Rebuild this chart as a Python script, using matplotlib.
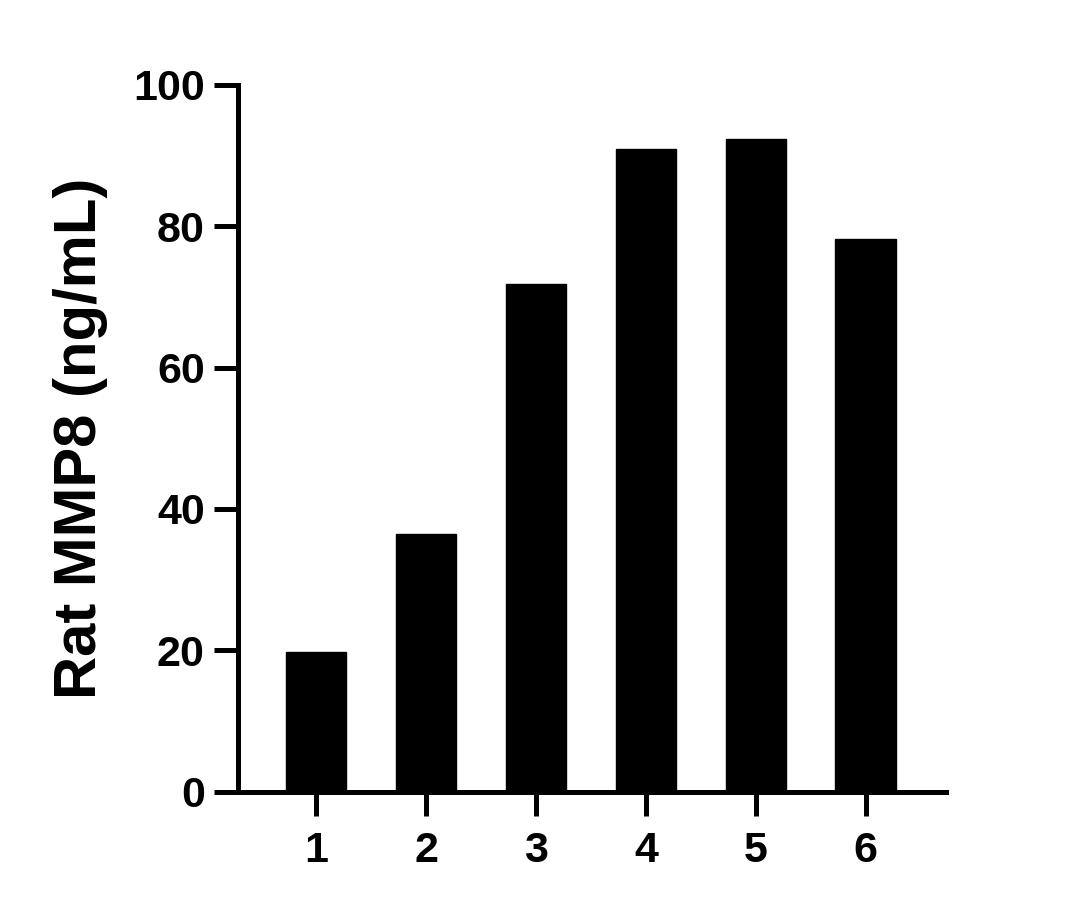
import matplotlib
matplotlib.use('Agg')
import matplotlib.pyplot as plt

# valores
muestras = ['1', '2', '3', '4', '5', '6']
mmp8 = [19.7, 36.5, 71.8, 90.9, 92.4, 78.2]

plt.rcParams['font.family'] = ['Liberation Sans', 'DejaVu Sans']
plt.rcParams['font.weight'] = 'bold'

fig = plt.figure(figsize=(10.79, 9.09), dpi=100)
ax = fig.add_axes([0.2206, 0.1290, 0.6561, 0.7777])

pos = range(1, len(muestras) + 1)
ax.bar(pos, mmp8, width=0.55, color='black', edgecolor='black')

ax.set_xlim(0.29, 6.73)
ax.set_ylim(0, 100)
ax.set_yticks([0, 20, 40, 60, 80, 100])
ax.set_xticks(list(pos))
ax.set_xticklabels(muestras)

for s in ['top', 'right']:
    ax.spines[s].set_visible(False)
for s in ['left', 'bottom']:
    ax.spines[s].set_linewidth(3.6)
    ax.spines[s].set_capstyle('projecting')

ax.tick_params(axis='y', length=17, width=3.6, labelsize=31, pad=7)
ax.tick_params(axis='x', length=17, width=3.6, labelsize=31, pad=11)
for lab in ax.get_xticklabels() + ax.get_yticklabels():
    lab.set_fontweight('bold')

ax.set_ylabel('Rat MMP8 (ng/mL)', fontsize=43, fontweight='bold', labelpad=18)

plt.savefig('out.png', dpi=100)
